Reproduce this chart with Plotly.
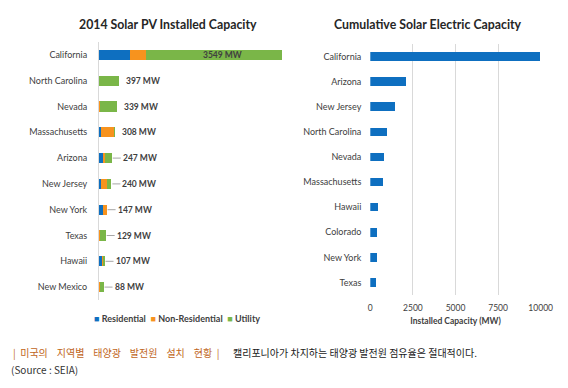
import plotly.graph_objects as go

# ---------------- data ----------------
pv_states = ["California", "North Carolina", "Nevada", "Massachusetts", "Arizona",
             "New Jersey", "New York", "Texas", "Hawaii", "New Mexico"]
pv_residential = [600, 0, 0, 45, 85, 45, 85, 2, 50, 3]
pv_non_residential = [310, 0, 15, 250, 40, 115, 62, 20, 45, 15]
pv_utility = [2639, 397, 324, 13, 122, 80, 0, 107, 12, 70]
pv_totals = [3549, 397, 339, 308, 247, 240, 147, 129, 107, 88]

cum_states = ["California", "Arizona", "New Jersey", "North Carolina", "Nevada",
              "Massachusetts", "Hawaii", "Colorado", "New York", "Texas"]
cum_mw = [9977, 2070, 1450, 960, 785, 750, 445, 410, 395, 320]
cum_ticks = [0, 2500, 5000, 7500, 10000]

series_names = ["Residential", "Non-Residential", "Utility"]
# --------------------------------------

W, H = 568, 388
BLUE, ORANGE, GREEN = "#0E6FC0", "#F7931E", "#7AB648"
LAT = "Lato, 'Liberation Sans', sans-serif"
KR = "'Noto Sans CJK KR', sans-serif"
TXT = "#404040"
NB = "\u00a0"


def px(x):
    return x / W


def py(y):
    return 1 - y / H


fig = go.Figure()

for name, vals, col in zip(series_names, [pv_residential, pv_non_residential, pv_utility],
                           [BLUE, ORANGE, GREEN]):
    fig.add_trace(go.Bar(y=pv_states, x=vals, name=name, orientation="h",
                         marker=dict(color=col, line=dict(width=0)),
                         width=0.39, xaxis="x", yaxis="y", showlegend=False,
                         hoverinfo="x+y+name"))

fig.add_trace(go.Bar(y=cum_states, x=cum_mw, orientation="h",
                     marker=dict(color=BLUE, line=dict(width=0)), width=0.34,
                     xaxis="x2", yaxis="y2", showlegend=False))

fig.update_layout(
    template="none",
    width=W, height=H, autosize=False, barmode="stack",
    margin=dict(l=0, r=0, t=0, b=0, pad=0),
    paper_bgcolor="white", plot_bgcolor="white",
    font=dict(family=LAT, size=9, color=TXT),
    xaxis=dict(domain=[px(99), px(282.5)], range=[0, 3555], showgrid=False,
               zeroline=False, showticklabels=False, showline=False, automargin=False),
    yaxis=dict(domain=[py(300), py(42)], categoryorder="array", categoryarray=pv_states,
               autorange="reversed", showline=True, linecolor="#D9D9D9", linewidth=1,
               showgrid=False, zeroline=False, ticks="", ticklabelstandoff=9,
               automargin=False, tickfont=dict(size=9, color=TXT)),
    xaxis2=dict(domain=[px(370.3), px(540.7)], range=[0, 10000], tickvals=cum_ticks,
                tickformat="d", showgrid=True, gridcolor="#D9D9D9", gridwidth=1,
                zeroline=False, showline=False, ticks="", ticklabelstandoff=6,
                anchor="y2", automargin=False,
                tickfont=dict(size=8.5, color=TXT),
                title=dict(text="<b>Installed Capacity (MW)</b>", standoff=6,
                           font=dict(size=8.5, color=TXT))),
    yaxis2=dict(domain=[py(295), py(44)], categoryorder="array", categoryarray=cum_states,
                autorange="reversed", anchor="x2", showline=False, showgrid=False,
                zeroline=False, ticks="", ticklabelstandoff=8, automargin=False,
                tickfont=dict(size=9, color=TXT)),
)

ann = []
# titles
ann.append(dict(text="<b>2014 Solar PV Installed Capacity</b>", x=px(168), y=py(25),
                xref="paper", yref="paper", showarrow=False, xanchor="center",
                yanchor="middle", font=dict(size=12.3, color="#262626")))
ann.append(dict(text="<b>Cumulative Solar Electric Capacity</b>", x=px(428), y=py(24),
                xref="paper", yref="paper", showarrow=False, xanchor="center",
                yanchor="middle", font=dict(size=12.3, color="#262626")))

# data labels
LBL = dict(size=8.5, color=TXT)
for i, tot in enumerate(pv_totals):
    label = f"<b>{tot} MW</b>"
    if i == 0:
        ann.append(dict(text=label, x=tot, y=i, xref="x", yref="y", showarrow=False,
                        xanchor="right", yanchor="middle", xshift=-38, font=LBL))
    elif tot < 300:
        ann.append(dict(text=label, x=tot, y=i, xref="x", yref="y", showarrow=True,
                        arrowhead=0, arrowwidth=1, arrowcolor="#A6A6A6", ax=9, ay=0,
                        standoff=1, xanchor="left", yanchor="middle", font=LBL))
    else:
        ann.append(dict(text=label, x=tot, y=i, xref="x", yref="y", showarrow=False,
                        xanchor="left", yanchor="middle", xshift=5, font=LBL))

# legend
leg = (NB * 2).join(f"<span style='color:{c}'>■</span>{NB}<b>{n}</b>"
                    for n, c in zip(series_names, [BLUE, ORANGE, GREEN]))
ann.append(dict(text=leg, x=px(177), y=py(318), xref="paper", yref="paper",
                showarrow=False, xanchor="center", yanchor="middle",
                font=dict(size=9, color=TXT)))

# caption
bar_gap = " " + NB
word_gap = " " + NB * 3
orange_words = ["미국의", "지역별", "태양광", "발전원", "설치", "현황"]
orange_text = "|" + bar_gap + word_gap.join(orange_words) + bar_gap + "|"
ann.append(dict(text=orange_text, x=px(11), y=py(352),
                xref="paper", yref="paper", showarrow=False, xanchor="left",
                yanchor="middle", font=dict(family=KR, size=10, color="#C0651A")))
ann.append(dict(text="캘리포니아가 차지하는 태양광 발전원 점유율은 절대적이다.",
                x=px(231), y=py(352), xref="paper", yref="paper", showarrow=False,
                xanchor="left", yanchor="middle",
                font=dict(family=KR, size=10, color="#1A1A1A")))
ann.append(dict(text="(Source : SEIA)", x=px(9), y=py(369), xref="paper", yref="paper",
                showarrow=False, xanchor="left", yanchor="middle",
                font=dict(family=KR, size=10, color="#333333")))

fig.update_layout(annotations=ann)
fig.write_html("out.html", config={"displayModeBar": False},
               post_script="document.body.style.margin='0px';"
                           "document.body.style.overflow='hidden';")
